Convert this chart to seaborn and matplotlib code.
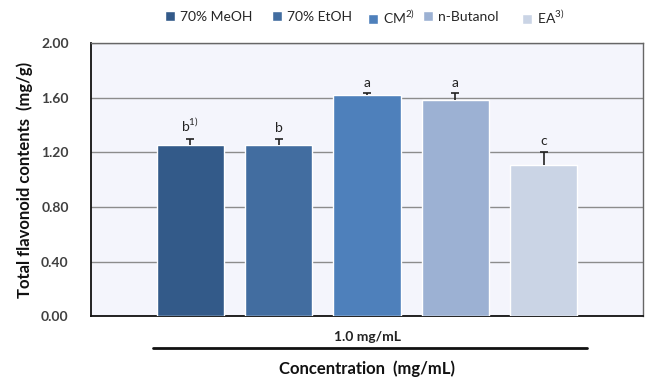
import matplotlib
matplotlib.use("Agg")
import matplotlib.pyplot as plt
import seaborn as sns
import pandas as pd
from matplotlib.lines import Line2D

solvents = ["70% MeOH", "70% EtOH", "CM$^{2)}$", "n-Butanol", "EA$^{3)}$"]
values = [1.25, 1.25, 1.62, 1.58, 1.11]
errors = [0.05, 0.05, 0.01, 0.05, 0.09]
letters = ["b$^{1)}$", "b", "a", "a", "c"]
concentration = ["1.0 mg/mL"]
colors = ["#335a89", "#426da0", "#4e80bb", "#9cb1d3", "#cad4e5"]
yticks = [0.0, 0.4, 0.8, 1.2, 1.6, 2.0]

sns.set_theme(style="white")
plt.rcParams["font.family"] = ["Lato", "DejaVu Sans"]
plt.rcParams["mathtext.fontset"] = "custom"
plt.rcParams["mathtext.rm"] = "Lato"

df = pd.DataFrame({"conc": concentration * len(solvents), "solvent": solvents, "value": values})

fig, ax = plt.subplots(figsize=(6.45, 3.8), dpi=100)
fig.subplots_adjust(left=0.141, right=0.997, top=0.887, bottom=0.168)
ax.set_facecolor("#f4f5fc")

sns.barplot(data=df, x="conc", y="value", hue="solvent", hue_order=solvents,
            palette=colors, saturation=1, width=0.8, gap=0.24, errorbar=None, ax=ax,
            edgecolor="#ffffff", linewidth=1.0, legend=True, zorder=3)
ax.set_xlim(-0.5, 0.5)

bars = [p for p in ax.patches if p.get_height() > 0][:len(values)]
bars = sorted(bars, key=lambda p: p.get_x())
for p, v, e, t in zip(bars, values, errors, letters):
    xc = p.get_x() + p.get_width() / 2
    _, caps, _ = ax.errorbar([xc], [v], yerr=[[0], [e]], fmt="none", ecolor="#222222",
                             elinewidth=1.2, capsize=3, capthick=1.2, zorder=4)
    if len(caps) > 1:
        caps[0].set_visible(False)
    ax.text(xc, v + e + 0.035, t, ha="center", va="bottom", fontsize=10, color="#222222")

ax.set_ylim(0, 2.0)
ax.set_yticks(yticks)
ax.set_yticklabels([f"{t:.2f}" for t in yticks], fontsize=10, fontweight="bold", color="#404040")
ax.yaxis.grid(True, color="#8c8c8c", linewidth=1.0, zorder=0)
ax.set_axisbelow(True)
ax.tick_params(axis="both", length=0)
ax.tick_params(axis="y", pad=16)
ax.tick_params(axis="x", pad=11)
for lab in ax.get_xticklabels():
    lab.set_fontsize(10)
    lab.set_fontweight("bold")
    lab.set_color("#222222")

for s in ["left", "bottom"]:
    ax.spines[s].set_color("#111111")
    ax.spines[s].set_linewidth(1.3)
for s in ["top", "right"]:
    ax.spines[s].set_color("#666666")
    ax.spines[s].set_linewidth(1.0)

ax.set_ylabel("Total flavonoid contents  (mg/g)", fontsize=12, fontweight="bold", color="#111111", labelpad=6)
ax.set_xlabel("Concentration  (mg/mL)", fontsize=12, fontweight="bold", color="#111111", labelpad=12)

ax.add_line(Line2D([0.112, 0.899], [-0.117, -0.117], transform=ax.transAxes,
                   color="#111111", linewidth=2.0, clip_on=False))

handles, labels = ax.get_legend_handles_labels()
ax.get_legend().remove()
leg_x = [165, 272, 368, 423, 522]
for h, l, x in zip(handles, labels, leg_x):
    fig.legend([h], [l], loc="center left", bbox_to_anchor=(x / 645, 1 - 17 / 380),
               frameon=False, fontsize=10, handlelength=0.7, handleheight=0.7,
               handletextpad=0.35, borderpad=0, borderaxespad=0)

fig.savefig("out.png", dpi=100)
